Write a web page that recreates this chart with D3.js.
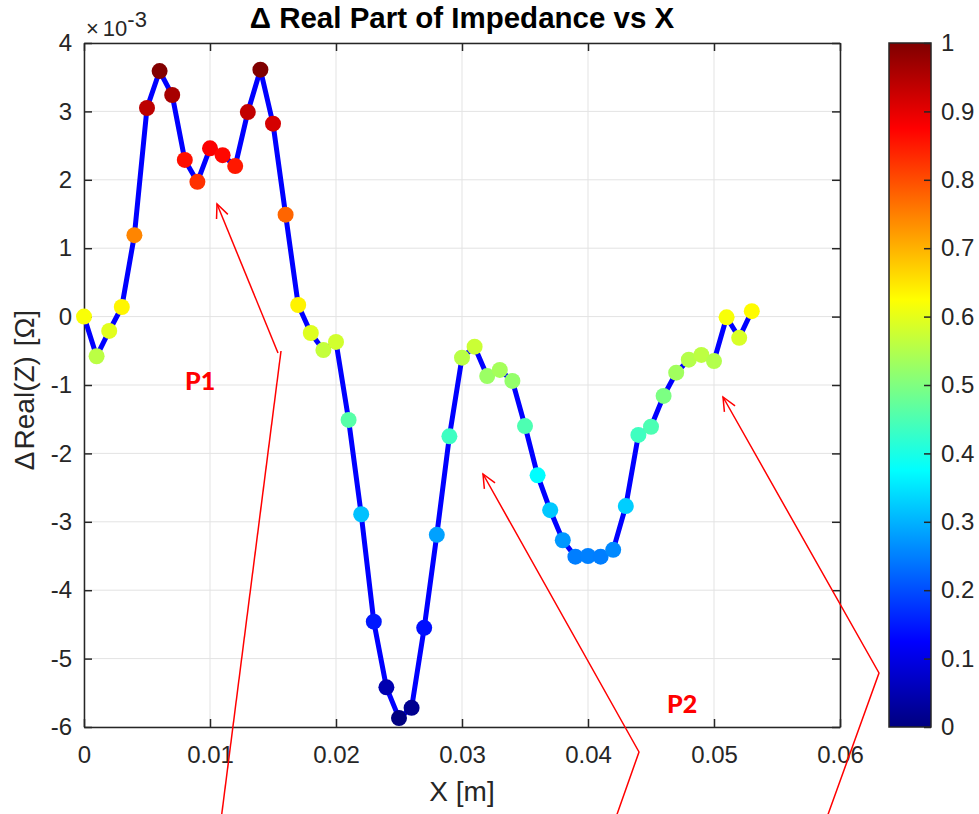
<!DOCTYPE html>
<html>
<head>
<meta charset="utf-8">
<script src="https://cdn.jsdelivr.net/npm/d3@7.9.0/dist/d3.min.js"></script>
<style>
  body { margin: 0; background: #fff; }
  svg text { font-family: "Liberation Sans", Arial, sans-serif; fill: #262626; }
</style>
</head>
<body>
<svg id="chart" width="979" height="814"></svg>
<script>
// x positions along the probe [m]
const xPos = [0, 0.001, 0.002, 0.003, 0.004, 0.005, 0.006, 0.007, 0.008, 0.009,
  0.010, 0.011, 0.012, 0.013, 0.014, 0.015, 0.016, 0.017, 0.018, 0.019,
  0.020, 0.021, 0.022, 0.023, 0.024, 0.025, 0.026, 0.027, 0.028, 0.029,
  0.030, 0.031, 0.032, 0.033, 0.034, 0.035, 0.036, 0.037, 0.038, 0.039,
  0.040, 0.041, 0.042, 0.043, 0.044, 0.045, 0.046, 0.047, 0.048, 0.049,
  0.050, 0.051, 0.052, 0.053];

// delta real part, in units of 1e-3 ohm
const deltaReal = [0.00, -0.58, -0.21, 0.14, 1.19, 3.05, 3.59, 3.24, 2.29, 1.97,
  2.46, 2.36, 2.20, 2.99, 3.61, 2.82, 1.49, 0.17, -0.24, -0.49,
  -0.37, -1.51, -2.89, -4.46, -5.42, -5.87, -5.72, -4.55, -3.19, -1.75,
  -0.60, -0.44, -0.87, -0.78, -0.94, -1.60, -2.32, -2.83, -3.27, -3.51,
  -3.50, -3.51, -3.41, -2.77, -1.73, -1.61, -1.16, -0.82, -0.63, -0.56,
  -0.65, -0.01, -0.31, 0.08];

const xTicks = [0, 0.01, 0.02, 0.03, 0.04, 0.05, 0.06];
const yTicks = [-6, -5, -4, -3, -2, -1, 0, 1, 2, 3, 4];
const cbTicks = [0, 0.1, 0.2, 0.3, 0.4, 0.5, 0.6, 0.7, 0.8, 0.9, 1];

// annotation polylines (arrowhead at the last point)
const annotations = [
  { label: "P1", lx: 185, ly: 390, tail: [[221, 820], [281, 351]], arrow: [[278, 353], [217, 204]] },
  { label: "P2", lx: 667, ly: 713, tail: [], arrow: [[615, 820], [639, 752], [483, 474]] },
  { label: null, tail: [], arrow: [[826, 820], [879, 673], [723, 397]] }
];

const svg = d3.select("#chart");
const pLeft = 84, pTop = 43, pRight = 840, pBottom = 727;
const tickFont = 24;

const x = d3.scaleLinear().domain([0, 0.06]).range([pLeft, pRight]);
const y = d3.scaleLinear().domain([-6, 4]).range([pBottom, pTop]);

// MATLAB jet colormap
function jet(t) {
  const c = v => Math.max(0, Math.min(1, v));
  const r = c(1.5 - Math.abs(4 * t - 3));
  const g = c(1.5 - Math.abs(4 * t - 2));
  const b = c(1.5 - Math.abs(4 * t - 1));
  return d3.rgb(r * 255, g * 255, b * 255).formatHex();
}
const norm = d3.scaleLinear().domain(d3.extent(deltaReal)).range([0, 1]);

// grid
const grid = svg.append("g").attr("stroke", "#e3e3e3").attr("stroke-width", 1);
xTicks.forEach(t => {
  grid.append("line").attr("x1", x(t)).attr("x2", x(t)).attr("y1", pTop).attr("y2", pBottom);
});
yTicks.forEach(t => {
  grid.append("line").attr("x1", pLeft).attr("x2", pRight).attr("y1", y(t)).attr("y2", y(t));
});

// axes (ticks inward, box on)
const tickLen = 8;
svg.append("g").attr("transform", `translate(0,${pBottom})`)
  .call(d3.axisBottom(x).tickValues(xTicks).tickSizeInner(-tickLen).tickSizeOuter(0).tickPadding(19)
    .tickFormat(d => d === 0 ? "0" : d3.format(".2f")(d)));
svg.append("g").attr("transform", `translate(0,${pTop})`)
  .call(d3.axisTop(x).tickValues(xTicks).tickSizeInner(-tickLen).tickSizeOuter(0).tickFormat(""));
svg.append("g").attr("transform", `translate(${pLeft},0)`)
  .call(d3.axisLeft(y).tickValues(yTicks).tickSizeInner(-tickLen).tickSizeOuter(0).tickPadding(12)
    .tickFormat(d => String(d)));
svg.append("g").attr("transform", `translate(${pRight},0)`)
  .call(d3.axisRight(y).tickValues(yTicks).tickSizeInner(-tickLen).tickSizeOuter(0).tickFormat(""));

svg.selectAll(".domain").attr("stroke", "#262626").attr("stroke-width", 1.5);
svg.selectAll(".tick line").attr("stroke", "#262626").attr("stroke-width", 1.5);
svg.selectAll(".tick text").attr("font-size", tickFont).attr("fill", "#262626");

// exponent label
const expo = svg.append("text").attr("x", 86).attr("y", 36).attr("font-size", 22);
expo.append("tspan").text("×");
expo.append("tspan").attr("dx", 4).text("10");
expo.append("tspan").attr("dy", -9).attr("font-size", 22).text("-3");

// line
const line = d3.line().x((d, i) => x(xPos[i])).y(d => y(d));
svg.append("path").datum(deltaReal)
  .attr("d", line).attr("fill", "none").attr("stroke", "#0000ff").attr("stroke-width", 5)
  .attr("stroke-linejoin", "round");

// markers
svg.append("g").selectAll("circle").data(deltaReal).join("circle")
  .attr("cx", (d, i) => x(xPos[i]))
  .attr("cy", d => y(d))
  .attr("r", 8)
  .attr("fill", d => jet(norm(d)));

// colorbar
const cbLeft = 889, cbRight = 931;
const cbY = d3.scaleLinear().domain([0, 1]).range([pBottom, pTop]);
const defs = svg.append("defs");
const grad = defs.append("linearGradient").attr("id", "jetGrad")
  .attr("x1", 0).attr("y1", 1).attr("x2", 0).attr("y2", 0);
d3.range(0, 1.0001, 1 / 64).forEach(t => {
  grad.append("stop").attr("offset", t).attr("stop-color", jet(t));
});
svg.append("rect").attr("x", cbLeft).attr("y", pTop).attr("width", cbRight - cbLeft)
  .attr("height", pBottom - pTop).attr("fill", "url(#jetGrad)")
  .attr("stroke", "#262626").attr("stroke-width", 1.5);
const cbAxis = svg.append("g").attr("transform", `translate(${cbRight},0)`)
  .call(d3.axisRight(cbY).tickValues(cbTicks).tickSizeInner(-7).tickSizeOuter(0).tickPadding(10)
    .tickFormat(d => d === 0 ? "0" : d === 1 ? "1" : d3.format(".1f")(d)));
cbAxis.select(".domain").remove();
cbAxis.selectAll(".tick line").attr("stroke", "#262626").attr("stroke-width", 1.5);
cbAxis.selectAll(".tick text").attr("font-size", tickFont).attr("fill", "#262626");

// titles
svg.append("text").attr("x", (pLeft + pRight) / 2).attr("y", 28)
  .attr("text-anchor", "middle").attr("font-size", 29.5).attr("font-weight", "bold")
  .style("fill", "#000").text("Δ Real Part of Impedance vs X");
svg.append("text").attr("x", (pLeft + pRight) / 2).attr("y", 801)
  .attr("text-anchor", "middle").attr("font-size", 28).text("X [m]");
const yLab = svg.append("text").attr("transform", "translate(34,390) rotate(-90)")
  .attr("text-anchor", "middle").attr("font-size", 28);
yLab.append("tspan").text("Δ");
yLab.append("tspan").attr("dx", 2).text("Real(Z)");
yLab.append("tspan").attr("dx", 2).text(" [Ω]");

// annotations
const ann = svg.append("g").attr("stroke", "#ff0000").attr("stroke-width", 1.5).attr("fill", "none");
annotations.forEach(a => {
  if (a.tail.length) ann.append("path").attr("d", d3.line()(a.tail));
  ann.append("path").attr("d", d3.line()(a.arrow));
  const n = a.arrow.length;
  const [x1, y1] = a.arrow[n - 2], [x2, y2] = a.arrow[n - 1];
  const ang = Math.atan2(y2 - y1, x2 - x1);
  const L = 15, spread = 0.42;
  const head = [
    [x2 - L * Math.cos(ang - spread), y2 - L * Math.sin(ang - spread)],
    [x2, y2],
    [x2 - L * Math.cos(ang + spread), y2 - L * Math.sin(ang + spread)]
  ];
  ann.append("path").attr("d", d3.line()(head));
  if (a.label) {
    svg.append("text").attr("x", a.lx).attr("y", a.ly)
      .attr("font-weight", "900").attr("font-size", 25)
      .style("font-family", "Lato, 'Open Sans', sans-serif")
      .style("fill", "#ff0000").text(a.label);
  }
});
</script>
</body>
</html>
